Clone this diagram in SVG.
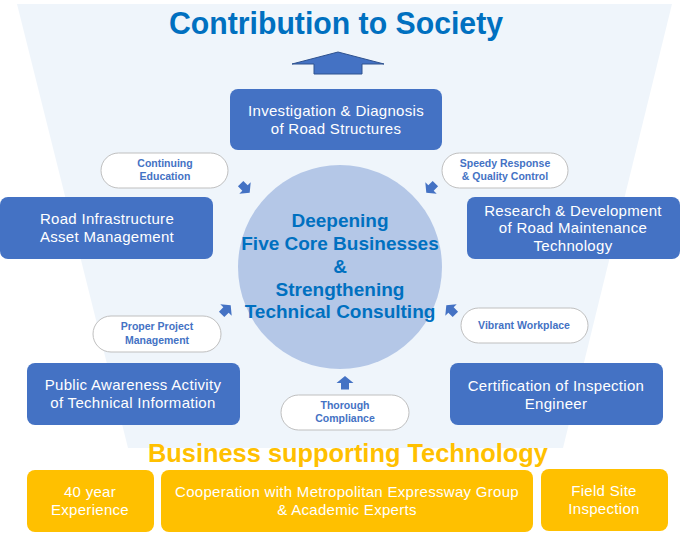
<svg xmlns="http://www.w3.org/2000/svg" width="680" height="540" viewBox="0 0 680 540">
<style>
.box{fill:#4472c4}
.obox{fill:#ffc000}
.pill{fill:#ffffff;stroke:#bfbfbf;stroke-width:1}
.bt{font-family:"Liberation Sans",Arial,sans-serif;font-size:15px;letter-spacing:0.3px;fill:#ffffff;text-anchor:middle}
.pt{font-family:"Liberation Sans",Arial,sans-serif;font-size:10.5px;font-weight:bold;fill:#4472c4;text-anchor:middle}
.ct{font-family:"Liberation Sans",Arial,sans-serif;font-size:19px;font-weight:bold;fill:#0070c0;text-anchor:middle}
.sa{fill:#4472c4}
</style>
<defs>
<path id="sarrow" d="M0,-7 L8.5,0 L4,0 L4,6.5 L-4,6.5 L-4,0 L-8.5,0 Z"/>
</defs>
<rect width="680" height="540" fill="#ffffff"/>
<polygon points="17,4 672,4 563,448 128,448" fill="#eff5fb"/>
<text x="336" y="34" font-family="'Liberation Sans',Arial,sans-serif" font-size="31" font-weight="bold" fill="#0070c0" text-anchor="middle" textLength="334" lengthAdjust="spacingAndGlyphs">Contribution to Society</text>
<path d="M292,64 L338,52 L384,64 L362,64 L362,74 L314,74 L314,64 Z" fill="#4472c4" stroke="#2f528f" stroke-width="1"/>
<g id="core">
<circle cx="340" cy="267" r="102" fill="#b4c7e7"/>
<text class="ct" x="340" y="227">Deepening</text>
<text class="ct" x="340" y="250">Five Core Businesses</text>
<text class="ct" x="340" y="273">&amp;</text>
<text class="ct" x="340" y="296">Strengthening</text>
<text class="ct" x="340" y="318">Technical Consulting</text>
</g>
<g id="investigation">
<rect class="box" x="230" y="89" width="212" height="61" rx="8"/>
<text class="bt" x="336" y="116">Investigation &amp; Diagnosis</text>
<text class="bt" x="336" y="134">of Road Structures</text>
</g>
<g id="asset">
<rect class="box" x="0" y="197" width="213" height="62" rx="8"/>
<text class="bt" x="107" y="224">Road Infrastructure</text>
<text class="bt" x="107" y="242">Asset Management</text>
</g>
<g id="research">
<rect class="box" x="467" y="197" width="213" height="62" rx="8"/>
<text class="bt" x="573" y="216">Research &amp; Development</text>
<text class="bt" x="573" y="233">of Road Maintenance</text>
<text class="bt" x="573" y="251">Technology</text>
</g>
<g id="public">
<rect class="box" x="27" y="363" width="213" height="62" rx="8"/>
<text class="bt" x="133" y="390">Public Awareness Activity</text>
<text class="bt" x="133" y="408">of Technical Information</text>
</g>
<g id="certification">
<rect class="box" x="450" y="363" width="213" height="62" rx="8"/>
<text class="bt" x="556" y="391">Certification of Inspection</text>
<text class="bt" x="556" y="409">Engineer</text>
</g>
<g id="continuing">
<rect class="pill" x="101" y="153" width="127" height="35" rx="17.5"/>
<text class="pt" x="165" y="167">Continuing</text>
<text class="pt" x="165" y="180">Education</text>
</g>
<g id="speedy">
<rect class="pill" x="442" y="153" width="126" height="35" rx="17.5"/>
<text class="pt" x="505" y="167">Speedy Response</text>
<text class="pt" x="505" y="180">&amp; Quality Control</text>
</g>
<g id="proper">
<rect class="pill" x="93" y="316" width="128" height="36" rx="18"/>
<text class="pt" x="157" y="330">Proper Project</text>
<text class="pt" x="157" y="344">Management</text>
</g>
<g id="vibrant">
<rect class="pill" x="461" y="308" width="127" height="35" rx="17.5"/>
<text class="pt" x="524" y="329">Vibrant Workplace</text>
</g>
<g id="compliance">
<rect class="pill" x="281" y="395" width="128" height="35" rx="17.5"/>
<text class="pt" x="345" y="409">Thorough</text>
<text class="pt" x="345" y="422">Compliance</text>
</g>
<g id="connectors">
<use href="#sarrow" class="sa" transform="translate(245,188) rotate(135) scale(0.95)"/>
<use href="#sarrow" class="sa" transform="translate(431,188) rotate(-135) scale(0.95)"/>
<use href="#sarrow" class="sa" transform="translate(226,310) rotate(45) scale(0.95)"/>
<use href="#sarrow" class="sa" transform="translate(451,310) rotate(-45) scale(0.95)"/>
<use href="#sarrow" class="sa" transform="translate(345,383)"/>
</g>
<text x="348" y="462" font-family="'Liberation Sans',Arial,sans-serif" font-size="26" font-weight="bold" fill="#ffc000" text-anchor="middle" textLength="400" lengthAdjust="spacingAndGlyphs">Business supporting Technology</text>
<g id="experience">
<rect class="obox" x="27" y="470" width="127" height="62" rx="8"/>
<text class="bt" x="90" y="497">40 year</text>
<text class="bt" x="90" y="515">Experience</text>
</g>
<g id="cooperation">
<rect class="obox" x="161" y="470" width="372" height="62" rx="8"/>
<text class="bt" x="347" y="497">Cooperation with Metropolitan Expressway Group</text>
<text class="bt" x="347" y="515">&amp; Academic Experts</text>
</g>
<g id="field">
<rect class="obox" x="541" y="469" width="127" height="62" rx="8"/>
<text class="bt" x="604" y="496">Field Site</text>
<text class="bt" x="604" y="514">Inspection</text>
</g>
</svg>
